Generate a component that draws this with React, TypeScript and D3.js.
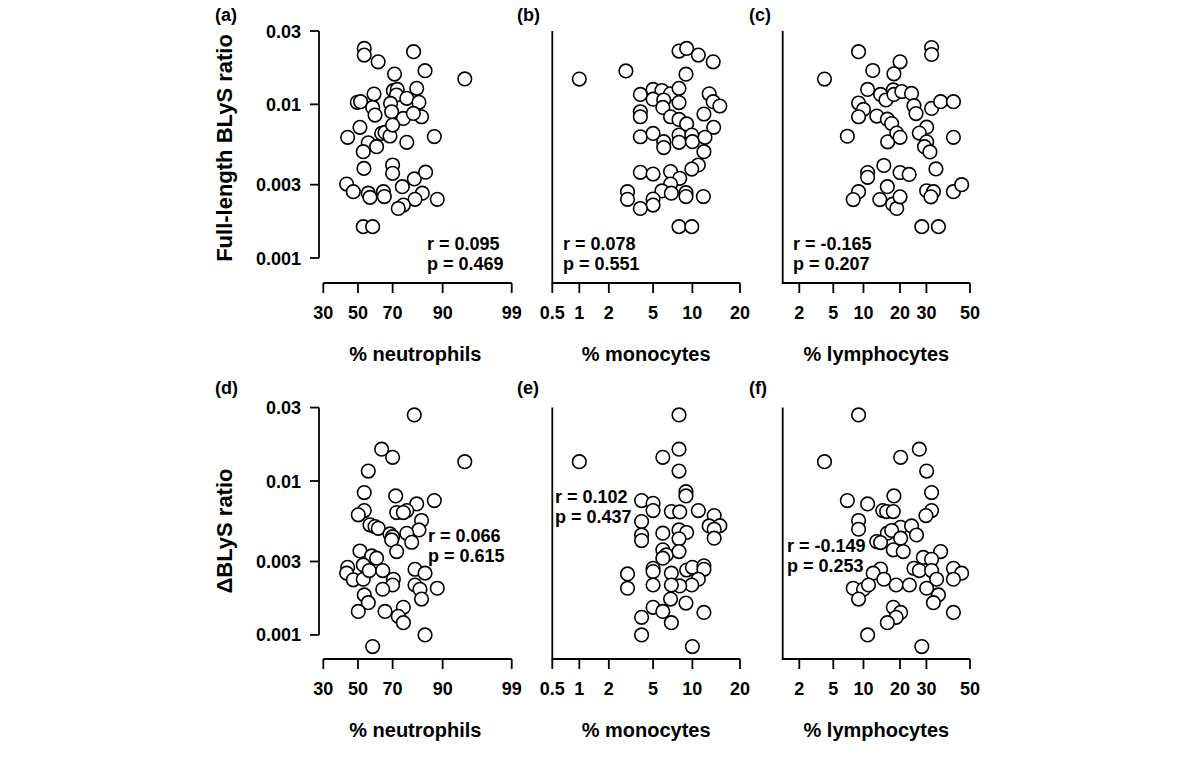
import React from "react";
import * as d3 from "d3";

// ---------- data ----------
const neutrophilTicks = [30, 50, 70, 90, 99];
const monocyteTicks = [0.5, 1, 2, 5, 10, 20];
const lymphocyteTicks = [2, 5, 10, 20, 30, 50];
const ratioTicks = [0.001, 0.003, 0.01, 0.03];
const ratioTickLabels = ["0.001", "0.003", "0.01", "0.03"];

// (a) full-length BLyS vs % neutrophils
const aNeutrophils = [53.8, 53.8, 62, 80, 84.5, 71, 94.7, 59.6, 70.4, 72.4, 72, 81.3, 77, 49.6, 51.6, 58.8, 60.2, 68.9, 69.5, 75.4, 82.2, 83.2, 79.9, 51.2, 43.8, 56.2, 61.1, 64, 65.9, 68.6, 70, 77, 87.6, 53.2, 53.6, 70, 70, 43.2, 47.2, 56.2, 57.2, 65, 65.5, 74.9, 80.3, 84.7, 83.5, 80.6, 75.4, 72.9, 88.5, 53.2, 58.8];
const aRatio = [0.0231, 0.0209, 0.0189, 0.022, 0.01656, 0.01574, 0.01462, 0.01167, 0.01227, 0.0125, 0.0115, 0.0127, 0.01094, 0.0103, 0.0104, 0.00955, 0.00851, 0.01014, 0.00895, 0.0081, 0.0103, 0.0083, 0.00873, 0.00708, 0.0061, 0.00562, 0.0053, 0.00647, 0.00656, 0.00622, 0.00733, 0.00566, 0.00617, 0.00492, 0.00383, 0.00403, 0.00356, 0.00303, 0.0027, 0.00264, 0.00248, 0.0027, 0.00251, 0.00291, 0.00327, 0.00362, 0.00264, 0.00241, 0.00221, 0.0021, 0.00241, 0.0016, 0.0016];

// (b) full-length BLyS vs % monocytes
const bMonocytes = [8.0, 9.1, 11.0, 13.8, 2.9, 9.0, 1.0, 3.9, 5.0, 5.9, 6.9, 8.0, 5.0, 6.1, 8.0, 6.0, 3.9, 3.9, 6.9, 8.0, 9.1, 13.0, 13.8, 15.2, 12.0, 13.9, 3.9, 5.0, 6.1, 6.1, 8.0, 8.0, 9.9, 10.0, 12.2, 12.0, 11.0, 9.9, 3.9, 5.0, 6.9, 8.1, 6.9, 5.9, 7.0, 9.0, 9.0, 11.9, 3.0, 3.0, 5.0, 5.0, 3.9, 8.0, 9.9];
const bRatio = [0.0222, 0.0231, 0.0209, 0.0189, 0.0165, 0.0157, 0.0146, 0.0116, 0.0125, 0.0123, 0.0117, 0.0127, 0.0108, 0.01067, 0.01026, 0.00955, 0.00895, 0.0083, 0.0083, 0.00798, 0.00745, 0.0117, 0.0104, 0.00975, 0.00865, 0.00708, 0.00615, 0.00647, 0.00571, 0.00523, 0.00631, 0.00566, 0.00631, 0.00571, 0.0061, 0.00492, 0.00403, 0.00379, 0.00361, 0.00352, 0.00365, 0.0033, 0.00303, 0.00273, 0.00264, 0.00266, 0.00251, 0.00251, 0.0027, 0.00241, 0.00242, 0.00221, 0.0021, 0.0016, 0.0016];

// (c) full-length BLyS vs % lymphocytes
const cLymphocytes = [32.2, 32.2, 9.0, 20.0, 12.1, 18.0, 4.0, 10.9, 14.1, 15.6, 17.8, 18.0, 20.6, 24.1, 25.0, 9.0, 10.0, 9.0, 13.1, 16.0, 17.3, 32.2, 36.2, 42.1, 25.8, 30.1, 27.1, 30.1, 29.2, 31.5, 7.0, 16.1, 18.9, 20.0, 42.1, 15.0, 10.9, 10.9, 20.0, 23.2, 34.1, 16.0, 9.0, 8.0, 13.9, 17.6, 18.9, 20.0, 30.1, 33.0, 31.9, 42.1, 46.0, 28.1, 35.2];
const cRatio = [0.0234, 0.0211, 0.022, 0.0189, 0.0166, 0.0158, 0.0146, 0.0125, 0.0116, 0.01067, 0.0124, 0.0116, 0.0121, 0.01178, 0.0098, 0.0102, 0.00927, 0.0083, 0.00839, 0.008, 0.0075, 0.0094, 0.0104, 0.0104, 0.0087, 0.0071, 0.0065, 0.0057, 0.0053, 0.0049, 0.0062, 0.0057, 0.0065, 0.0061, 0.0061, 0.004, 0.0036, 0.00335, 0.0036, 0.0035, 0.0038, 0.00291, 0.0027, 0.0024, 0.0024, 0.00224, 0.0021, 0.0025, 0.00274, 0.0027, 0.0025, 0.0027, 0.003, 0.0016, 0.0016];

// (d) ΔBLyS vs % neutrophils
const dNeutrophils = [80.3, 64.0, 70.0, 94.7, 56.2, 53.8, 71.6, 81.3, 87.6, 53.8, 50.2, 72.1, 77.0, 75.4, 83.2, 82.2, 57.2, 60.2, 62.1, 68.6, 70.0, 69.5, 77.0, 79.2, 72.1, 51.2, 58.2, 61.1, 43.8, 43.2, 47.2, 53.2, 53.2, 56.8, 64.6, 80.6, 84.5, 70.4, 70.0, 64.6, 80.6, 82.6, 83.2, 88.5, 53.8, 56.2, 50.2, 65.9, 75.4, 72.9, 75.4, 84.5, 58.8];
const dRatio = [0.0269, 0.0161, 0.01425, 0.01336, 0.01161, 0.00841, 0.008, 0.0071, 0.00746, 0.00643, 0.00603, 0.00624, 0.00643, 0.00624, 0.00554, 0.00481, 0.00519, 0.00506, 0.00493, 0.00453, 0.00435, 0.00414, 0.00457, 0.004, 0.00348, 0.00351, 0.00326, 0.00315, 0.00275, 0.00252, 0.00228, 0.00285, 0.0023, 0.00262, 0.00262, 0.00267, 0.00252, 0.0023, 0.00211, 0.00198, 0.00211, 0.00198, 0.00171, 0.00201, 0.00182, 0.00162, 0.00142, 0.00142, 0.00151, 0.00132, 0.0012, 0.001, 0.00084];

// (e) ΔBLyS vs % monocytes
const eMonocytes = [8.0, 8.0, 6.0, 8.0, 1.0, 9.0, 9.0, 4.0, 5.0, 5.0, 7.0, 8.1, 11.0, 14.0, 4.0, 6.0, 8.0, 9.1, 8.0, 4.0, 4.0, 13.0, 15.2, 14.0, 14.0, 6.0, 6.4, 6.0, 8.0, 5.0, 5.0, 7.0, 9.1, 10.0, 12.0, 12.0, 11.0, 9.9, 8.1, 7.0, 5.0, 3.0, 3.0, 6.9, 9.0, 5.0, 6.0, 7.0, 12.0, 4.0, 4.0, 10.0];
const eRatio = [0.0269, 0.0161, 0.01425, 0.01161, 0.01336, 0.00853, 0.008, 0.00746, 0.00716, 0.00643, 0.00633, 0.0063, 0.00643, 0.00596, 0.00545, 0.00458, 0.00481, 0.00463, 0.00421, 0.00446, 0.0041, 0.00511, 0.00513, 0.00486, 0.00425, 0.00357, 0.00331, 0.00315, 0.00348, 0.00271, 0.00258, 0.00252, 0.00264, 0.00275, 0.00281, 0.00267, 0.0023, 0.00211, 0.00208, 0.00211, 0.00211, 0.00249, 0.00201, 0.00171, 0.00161, 0.00151, 0.00142, 0.0012, 0.0014, 0.0013, 0.001, 0.00084];

// (f) ΔBLyS vs % lymphocytes
const fLymphocytes = [9.0, 27.1, 20.2, 30.1, 4.0, 32.2, 7.0, 10.9, 18.0, 14.7, 15.8, 17.8, 32.2, 29.8, 9.0, 9.0, 20.2, 24.1, 26.0, 16.0, 17.3, 20.2, 13.1, 14.1, 17.8, 21.1, 36.2, 28.7, 32.2, 25.0, 27.1, 32.2, 34.4, 42.1, 46.0, 42.1, 14.1, 12.2, 15.0, 8.0, 10.0, 11.1, 18.7, 23.3, 9.0, 30.1, 35.2, 33.0, 17.8, 20.2, 18.7, 16.0, 42.1, 10.9, 28.1];
const fRatio = [0.0269, 0.0161, 0.01425, 0.01161, 0.01336, 0.00841, 0.00746, 0.0071, 0.008, 0.00643, 0.00633, 0.00633, 0.00643, 0.00596, 0.00554, 0.00486, 0.005, 0.00511, 0.00446, 0.00458, 0.00477, 0.00425, 0.00404, 0.00398, 0.00357, 0.00348, 0.00348, 0.00319, 0.0031, 0.00271, 0.00262, 0.00262, 0.0023, 0.00271, 0.00252, 0.0023, 0.00268, 0.00252, 0.0023, 0.00201, 0.00198, 0.00211, 0.00211, 0.00211, 0.00171, 0.00201, 0.00182, 0.00162, 0.00151, 0.0014, 0.0013, 0.0012, 0.0014, 0.001, 0.00084];

const panelLetters = ["(a)", "(b)", "(c)", "(d)", "(e)", "(f)"];
const rLabels = ["r = 0.095", "r = 0.078", "r = -0.165", "r = 0.066", "r = 0.102", "r = -0.149"];
const pLabels = ["p = 0.469", "p = 0.551", "p = 0.207", "p = 0.615", "p = 0.437", "p = 0.253"];
const xTitles = ["% neutrophils", "% monocytes", "% lymphocytes"];
const yTitles = ["Full-length BLyS ratio", "\u0394BLyS ratio"];

// ---------- probit (inverse normal CDF, Acklam) ----------
function probit(p: number): number {
  const a = [-3.969683028665376e1, 2.209460984245205e2, -2.759285104469687e2, 1.38357751867269e2, -3.066479806614716e1, 2.506628277459239];
  const b = [-5.447609879822406e1, 1.615858368580409e2, -1.556989798598866e2, 6.680131188771972e1, -1.328068155288572e1];
  const c = [-7.784894002430293e-3, -3.223964580411365e-1, -2.400758277161838, -2.549732539343734, 4.374664141464968, 2.938163982698783];
  const d = [7.784695709041462e-3, 3.224671290700398e-1, 2.445134137142996, 3.754408661907416];
  const pl = 0.02425;
  if (p < pl) {
    const q = Math.sqrt(-2 * Math.log(p));
    return (((((c[0] * q + c[1]) * q + c[2]) * q + c[3]) * q + c[4]) * q + c[5]) / ((((d[0] * q + d[1]) * q + d[2]) * q + d[3]) * q + 1);
  }
  if (p <= 1 - pl) {
    const q = p - 0.5;
    const r = q * q;
    return ((((((a[0] * r + a[1]) * r + a[2]) * r + a[3]) * r + a[4]) * r + a[5]) * q) / (((((b[0] * r + b[1]) * r + b[2]) * r + b[3]) * r + b[4]) * r + 1);
  }
  const q = Math.sqrt(-2 * Math.log(1 - p));
  return -(((((c[0] * q + c[1]) * q + c[2]) * q + c[3]) * q + c[4]) * q + c[5]) / ((((d[0] * q + d[1]) * q + d[2]) * q + d[3]) * q + 1);
}

// ---------- layout ----------
const FONT = "'Liberation Sans', Arial, Helvetica, sans-serif";
const columns = [
  { lo: 30, hi: 99, x0: 323.3, x1: 511.7, boxLeft: 319, ticks: neutrophilTicks, style: "axis", letterX: 215 },
  { lo: 0.5, hi: 20, x0: 552.3, x1: 740, boxLeft: 552.3, ticks: monocyteTicks, style: "L", letterX: 517 },
  { lo: 2, hi: 50, x0: 799.3, x1: 970, boxLeft: 782.7, ticks: lymphocyteTicks, style: "L", letterX: 749 },
];
const rows = [
  { yTop: 31, yBot: 258, axisY: 283, letterY: 21, titleY: 148 },
  { yTop: 407.6, yBot: 634.9, axisY: 659, letterY: 394, titleY: 531 },
];
const statPos = [
  { x: 427, y: 250 }, { x: 563, y: 250 }, { x: 793, y: 250 },
  { x: 428, y: 542 }, { x: 555, y: 503 }, { x: 787, y: 552 },
];
const panelData = [
  [aNeutrophils, aRatio], [bMonocytes, bRatio], [cLymphocytes, cRatio],
  [dNeutrophils, dRatio], [eMonocytes, eRatio], [fLymphocytes, fRatio],
];

function Panel({ idx }: { idx: number }) {
  const col = columns[idx % 3];
  const row = rows[Math.floor(idx / 3)];
  const xs = d3.scaleLinear().domain([probit(col.lo / 100), probit(col.hi / 100)]).range([col.x0, col.x1]);
  const xPos = (v: number) => xs(probit(v / 100));
  const y = d3.scaleLog().domain([0.001, 0.03]).range([row.yBot, row.yTop]);
  const [xv, yv] = panelData[idx];
  const sw = 1.8;
  return (
    <g>
      <text x={col.letterX} y={row.letterY} fontSize={18} fontWeight="bold" fontFamily={FONT}>
        {panelLetters[idx]}
      </text>
      {col.style === "axis" ? (
        <g>
          <line x1={col.boxLeft} x2={col.boxLeft} y1={y(0.03)} y2={y(0.001)} stroke="#000" strokeWidth={sw} />
          {ratioTicks.map((t, i) => (
            <g key={t}>
              <line x1={col.boxLeft - 9} x2={col.boxLeft} y1={y(t)} y2={y(t)} stroke="#000" strokeWidth={sw} />
              <text x={301} y={y(t) + 6.5} textAnchor="end" fontSize={18} fontWeight="bold" fontFamily={FONT}>
                {ratioTickLabels[i]}
              </text>
            </g>
          ))}
          <line x1={xPos(col.lo)} x2={xPos(col.hi)} y1={row.axisY} y2={row.axisY} stroke="#000" strokeWidth={sw} />
        </g>
      ) : (
        <path
          d={`M${col.boxLeft},${row.yTop}V${row.axisY}H${col.x1}`}
          fill="none"
          stroke="#000"
          strokeWidth={sw}
        />
      )}
      {col.ticks.map((t) => (
        <g key={t}>
          <line x1={xPos(t)} x2={xPos(t)} y1={row.axisY} y2={row.axisY + 10} stroke="#000" strokeWidth={sw} />
          <text x={xPos(t)} y={row.axisY + 36} textAnchor="middle" fontSize={18} fontWeight="bold" fontFamily={FONT}>
            {String(t)}
          </text>
        </g>
      ))}
      <text
        x={(col.boxLeft + col.x1) / 2}
        y={row.axisY + 78}
        textAnchor="middle"
        fontSize={20}
        fontWeight="bold"
        fontFamily={FONT}
      >
        {xTitles[idx % 3]}
      </text>
      {xv.map((v, i) => (
        <circle key={i} cx={xPos(v)} cy={y(yv[i])} r={6.8} fill="#fff" stroke="#000" strokeWidth={1.6} />
      ))}
      <text x={statPos[idx].x} y={statPos[idx].y} fontSize={18} fontWeight="bold" fontFamily={FONT}>
        {rLabels[idx]}
      </text>
      <text x={statPos[idx].x} y={statPos[idx].y + 20} fontSize={18} fontWeight="bold" fontFamily={FONT}>
        {pLabels[idx]}
      </text>
    </g>
  );
}

export default function App() {
  return (
    <svg
      width={1200}
      height={758}
      style={{ position: "absolute", left: 0, top: 0, background: "#fff" }}
    >
      <rect width={1200} height={758} fill="#fff" />
      {[0, 1].map((r) => (
        <text
          key={r}
          transform={`translate(232,${rows[r].titleY}) rotate(-90)`}
          textAnchor="middle"
          fontSize={22}
          fontWeight="bold"
          fontFamily={FONT}
        >
          {yTitles[r]}
        </text>
      ))}
      {[0, 1, 2, 3, 4, 5].map((i) => (
        <Panel key={i} idx={i} />
      ))}
    </svg>
  );
}
